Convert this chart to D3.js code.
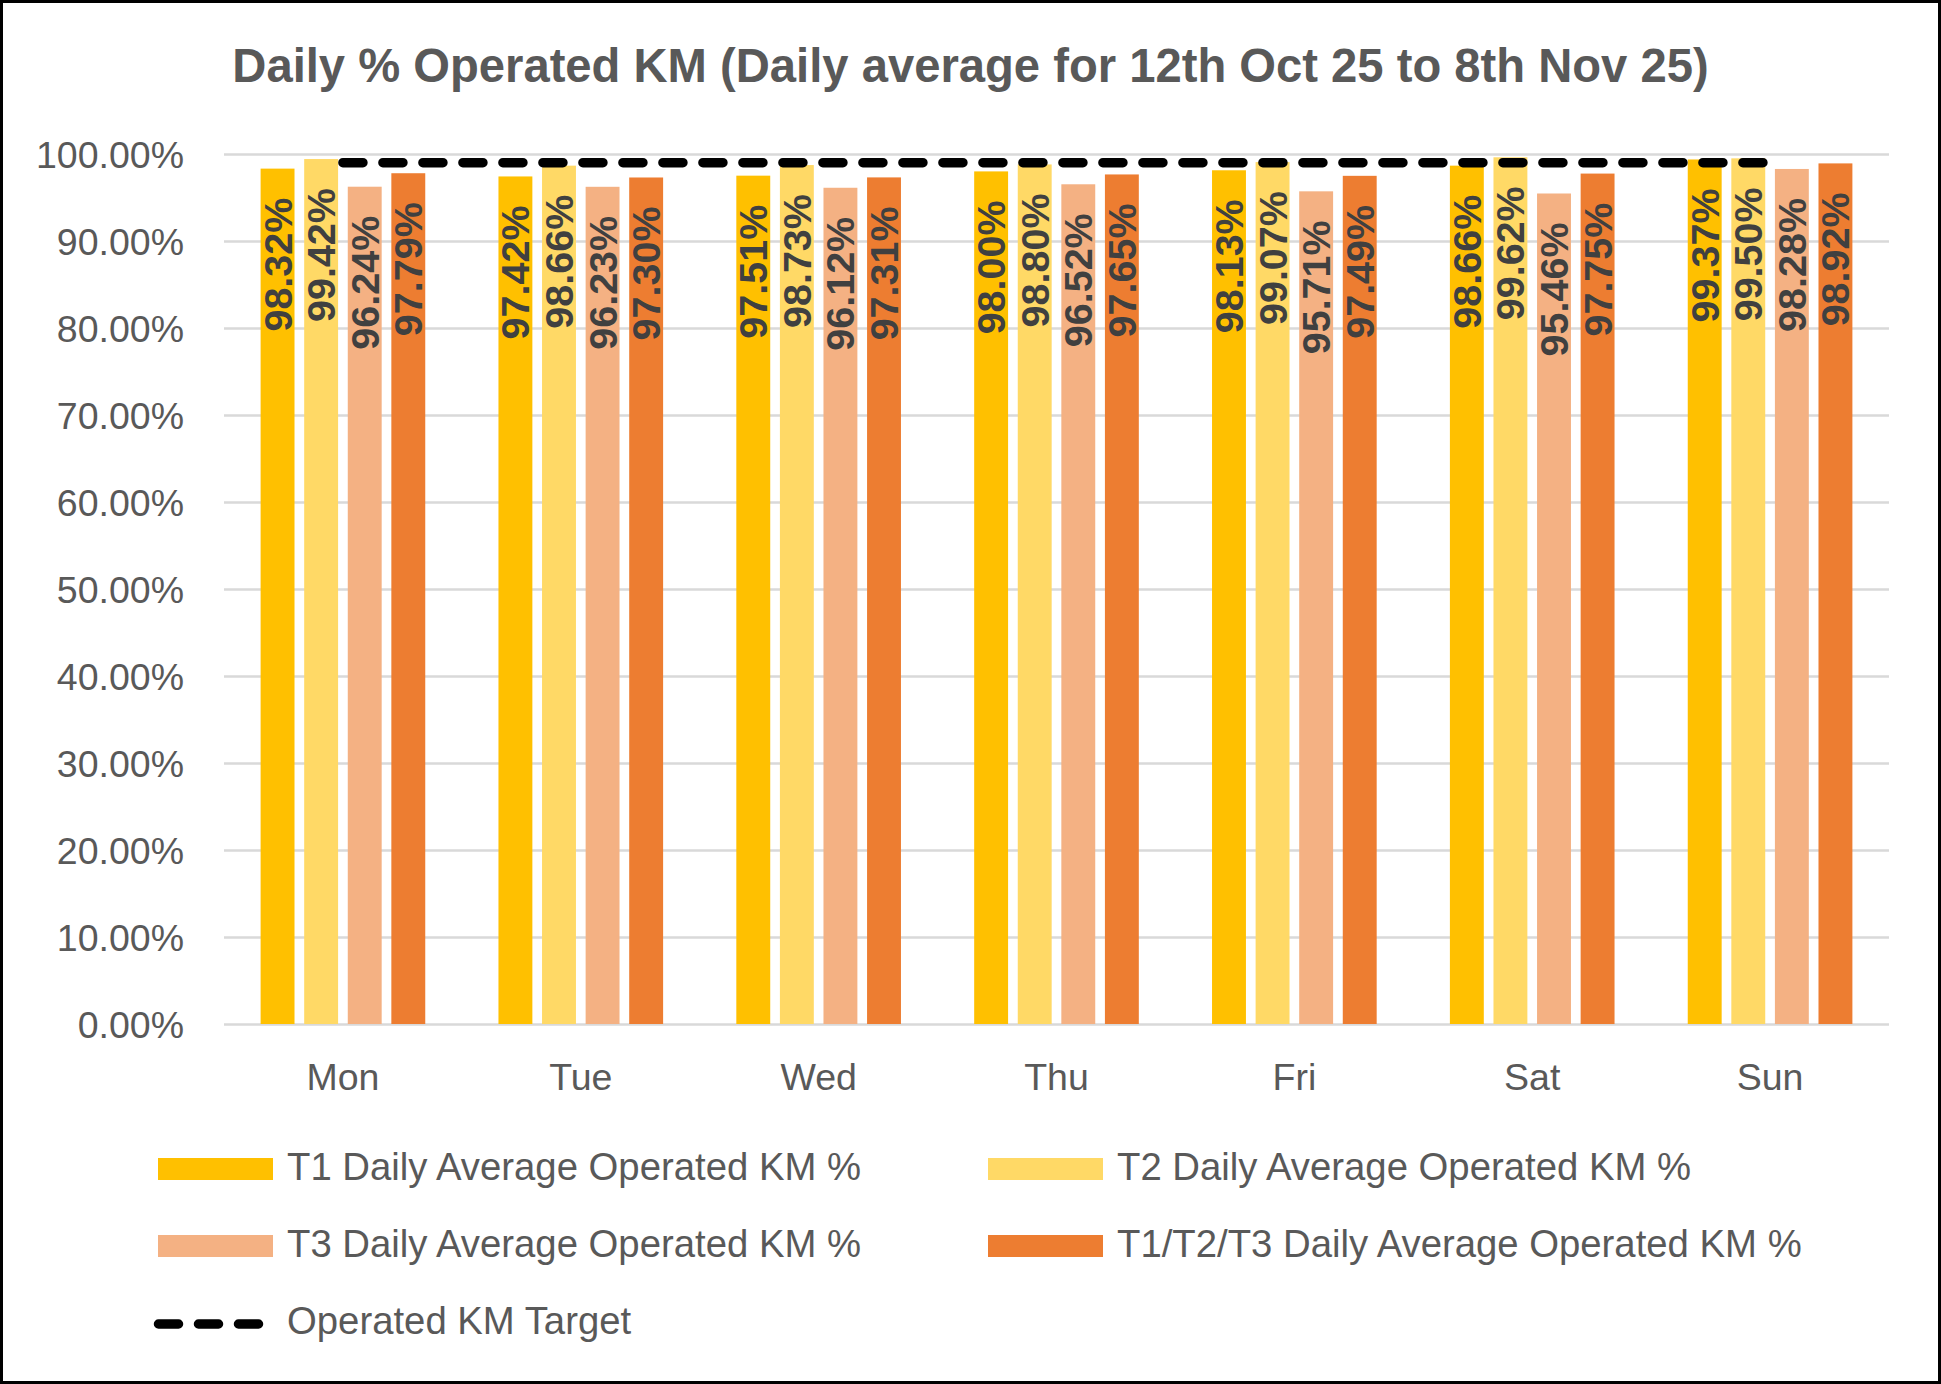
<!DOCTYPE html>
<html>
<head>
<meta charset="utf-8">
<script src="https://cdn.jsdelivr.net/npm/d3@7"></script>
<style>
  html, body { margin: 0; padding: 0; background: #fff; }
  svg { display: block; }
</style>
</head>
<body>
<svg id="chart" width="1941" height="1384"></svg>
<script>
// ---- data ----
const categories = ["Mon", "Tue", "Wed", "Thu", "Fri", "Sat", "Sun"];
const seriesNames = [
  "T1 Daily Average Operated KM %",
  "T2 Daily Average Operated KM %",
  "T3 Daily Average Operated KM %",
  "T1/T2/T3 Daily Average Operated KM %"
];
const t1Values = [98.32, 97.42, 97.51, 98.00, 98.13, 98.66, 99.37];
const t2Values = [99.42, 98.66, 98.73, 98.80, 99.07, 99.62, 99.50];
const t3Values = [96.24, 96.23, 96.12, 96.52, 95.71, 95.46, 98.28];
const allValues = [97.79, 97.30, 97.31, 97.65, 97.49, 97.75, 98.92];
const targetName = "Operated KM Target";
const targetValues = [99, 99, 99, 99, 99, 99, 99];
const yTicks = [0, 10, 20, 30, 40, 50, 60, 70, 80, 90, 100];
const title = "Daily % Operated KM (Daily average for 12th Oct 25 to 8th Nov 25)";

const seriesValues = [t1Values, t2Values, t3Values, allValues];
const colors = ["#FFC000", "#FFD966", "#F4B183", "#ED7D31"];

// ---- layout ----
const W = 1941, H = 1384;
const plot = { left: 224, right: 1889, top: 154, bottom: 1024 };
const svg = d3.select("#chart");
const FONT = "'Liberation Sans', Arial, sans-serif";
const TEXT = "#595959";

svg.append("rect").attr("x", 0).attr("y", 0).attr("width", W).attr("height", H).attr("fill", "#fff");

// title
svg.append("text")
  .attr("x", W / 2).attr("y", 82)
  .attr("text-anchor", "middle")
  .attr("font-family", FONT).attr("font-weight", "bold").attr("font-size", 47.2)
  .attr("fill", TEXT)
  .text(title);

const y = d3.scaleLinear().domain([0, 100]).range([plot.bottom, plot.top]);
const x0 = d3.scaleBand().domain(categories).range([plot.left, plot.right]).paddingInner(0).paddingOuter(0);
const x1 = d3.scaleBand().domain(d3.range(seriesNames.length)).range([0, x0.bandwidth()])
  .paddingInner(0.222).paddingOuter(0.84);

// y axis with gridlines
const yAxis = d3.axisLeft(y).tickValues(yTicks)
  .tickSize(-(plot.right - plot.left)).tickPadding(40)
  .tickFormat(d => d.toFixed(2) + "%");
const gy = svg.append("g").attr("transform", `translate(${plot.left},0)`).call(yAxis);
gy.select(".domain").remove();
gy.selectAll(".tick line").attr("stroke", "#D9D9D9").attr("stroke-width", 2.5);
gy.selectAll(".tick text").attr("font-family", FONT).attr("font-size", 37.5).attr("fill", TEXT)
  .attr("dy", "0.35em");

// x axis
const xAxis = d3.axisBottom(x0).tickSize(0).tickPadding(39);
const gx = svg.append("g").attr("transform", `translate(0,${plot.bottom})`).call(xAxis);
gx.select(".domain").remove();
gx.selectAll(".tick text").attr("font-family", FONT).attr("font-size", 37.5).attr("fill", TEXT);

// bars
const groups = svg.append("g").selectAll("g").data(categories).join("g")
  .attr("transform", d => `translate(${x0(d)},0)`);

seriesValues.forEach((vals, si) => {
  groups.append("rect")
    .attr("x", x1(si))
    .attr("width", x1.bandwidth())
    .attr("y", (d, i) => y(vals[i]))
    .attr("height", (d, i) => y(0) - y(vals[i]))
    .attr("fill", colors[si]);
});

// data labels (rotated, inside end)
seriesValues.forEach((vals, si) => {
  groups.append("text")
    .attr("transform", (d, i) => `translate(${x1(si) + x1.bandwidth() / 2 + 14},${y(vals[i]) + 29}) rotate(-90)`)
    .attr("text-anchor", "end")
    .attr("font-family", FONT).attr("font-weight", "bold").attr("font-size", 39.5)
    .attr("fill", "#404040")
    .text((d, i) => vals[i].toFixed(2) + "%");
});

// target line
const line = d3.line().x((d, i) => x0(categories[i]) + x0.bandwidth() / 2).y(d => y(d));
svg.append("path")
  .datum(targetValues)
  .attr("d", line)
  .attr("fill", "none")
  .attr("stroke", "#000")
  .attr("stroke-width", 9.5)
  .attr("stroke-linecap", "round")
  .attr("stroke-dasharray", "20,20");

// legend
const legendItems = [
  { name: seriesNames[0], color: colors[0], col: 0, row: 0 },
  { name: seriesNames[1], color: colors[1], col: 1, row: 0 },
  { name: seriesNames[2], color: colors[2], col: 0, row: 1 },
  { name: seriesNames[3], color: colors[3], col: 1, row: 1 },
  { name: targetName, line: true, col: 0, row: 2 }
];
const colX = [158, 988];
const rowY = [1180, 1257, 1334];
const lg = svg.append("g");
legendItems.forEach(it => {
  const gx0 = colX[it.col], gyb = rowY[it.row];
  if (it.line) {
    lg.append("line")
      .attr("x1", gx0 + 0.5).attr("x2", gx0 + 100.5)
      .attr("y1", gyb - 10).attr("y2", gyb - 10)
      .attr("stroke", "#000").attr("stroke-width", 9.5)
      .attr("stroke-linecap", "round").attr("stroke-dasharray", "20,20");
  } else {
    lg.append("rect").attr("x", gx0).attr("y", gyb - 22).attr("width", 115).attr("height", 22)
      .attr("fill", it.color);
  }
  lg.append("text")
    .attr("x", gx0 + 129).attr("y", gyb)
    .attr("font-family", FONT).attr("font-size", 38.3)
    .attr("fill", TEXT)
    .text(it.name);
});

// frame
svg.append("rect").attr("x", 1.5).attr("y", 1.5).attr("width", W - 3).attr("height", H - 3)
  .attr("fill", "none").attr("stroke", "#000").attr("stroke-width", 3);
</script>
</body>
</html>
